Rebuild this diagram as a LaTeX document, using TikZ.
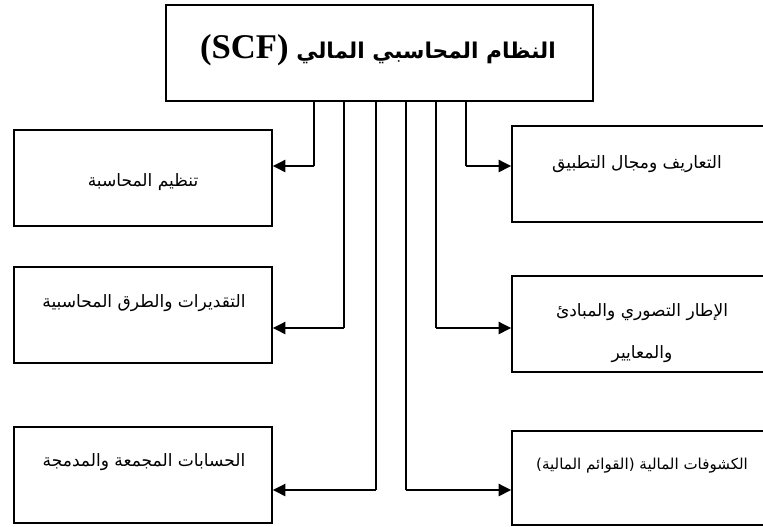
\documentclass[tikz,border=0pt]{standalone}
\usepackage{fontspec}
\usetikzlibrary{arrows.meta,calc}
\TeXXeTstate=1
\newfontfamily\arabicfont[Script=Arabic]{DejaVu Sans}
\newfontfamily\latinfont{Liberation Serif}
\begin{document}
\begin{tikzpicture}[x=0.75pt,y=-0.75pt,
  box/.style={draw, line width=1.1pt, inner sep=0pt, rectangle},
  lbox/.style={box, minimum width=193.5pt, minimum height=72pt},
  rbox/.style={box, minimum width=195pt, minimum height=72pt},
  lbl/.style={font=\arabicfont\fontsize{12.8}{15}\selectfont, inner sep=0pt, align=center},
  vline/.style={line width=0.9pt},
  harrow/.style={line width=1.8pt, -{Triangle[length=9.5pt,width=9pt]}}]
\useasboundingbox (0,0) rectangle (763,526);
% boxes
\node[box, minimum width=320.25pt, minimum height=72pt] (top) at (379.5,53) {};
\node[lbox] (l1) at (143,178) {};
\node[lbox] (l2) at (143,315) {};
\node[lbox] (l3) at (143,475) {};
\node[rbox] (r1) at (642,174) {};
\node[rbox] (r2) at (642,324) {};
\node[rbox, minimum height=70.5pt] (r3) at (642,478) {};
% texts
\node[inner sep=0pt] (tt) at (378,50) {\arabicfont\bfseries\fontsize{16.3}{20}\selectfont\beginR النظام المحاسبي المالي {\latinfont\bfseries\fontsize{26}{30}\selectfont\beginL(SCF)\endL}\endR};
\node[lbl] (t1) at (143,182) {\beginR تنظيم المحاسبة\endR};
\node[lbl] (t2) at (144,303) {\beginR التقديرات والطرق المحاسبية\endR};
\node[lbl] (t3) at (144,462) {\beginR الحسابات المجمعة والمدمجة\endR};
\node[lbl] (u1) at (637,164) {\beginR التعاريف ومجال التطبيق\endR};
\node[lbl] (u2) at (642,333) {\beginR الإطار التصوري والمبادئ\endR\\[16pt]\beginR والمعايير\endR};
\node[lbl, font=\arabicfont\fontsize{11.3}{13}\selectfont] (u3) at (642,466) {\beginR الكشوفات المالية (القوائم المالية)\endR};
% bend points
\coordinate (b1) at (314,166);
\coordinate (b2) at (344,328);
\coordinate (b3) at (376,490);
\coordinate (c1) at (466,166);
\coordinate (c2) at (436,328);
\coordinate (c3) at (406,490);
% connectors
\foreach \b/\n in {b1/l1,b2/l2,b3/l3} {
  \draw[vline] (top.south -| \b) -- (\b);
  \draw[harrow] (\b) -- (\n.east |- \b);
}
\foreach \b/\n in {c1/r1,c2/r2,c3/r3} {
  \draw[vline] (top.south -| \b) -- (\b);
  \draw[harrow] (\b) -- (\n.west |- \b);
}
\end{tikzpicture}
\end{document}
